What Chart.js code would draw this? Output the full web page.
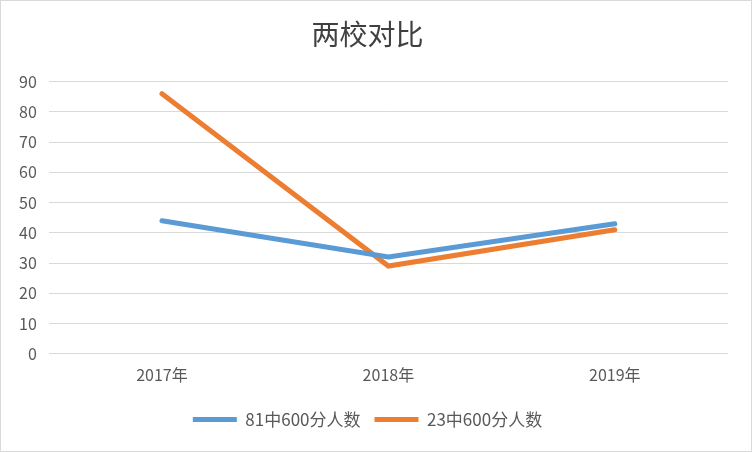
<!DOCTYPE html>
<html>
<head>
<meta charset="utf-8">
<script src="https://cdn.jsdelivr.net/npm/chart.js@4/dist/chart.umd.min.js"></script>
<style>
  body { margin: 0; background: #fff; }
  #wrap { width: 752px; height: 452px; box-sizing: border-box; border: 1px solid #d9d9d9; }
</style>
</head>
<body>
<div id="wrap"><canvas id="myChart"></canvas></div>
<script>
// dati
var years = ['2017年', '2018年', '2019年'];
var school81 = [44, 32, 43];
var school23 = [86, 29, 41];
var yTicks = [0, 10, 20, 30, 40, 50, 60, 70, 80, 90];

var grey = '#595959';
var font = "'Noto Sans CJK SC', 'Noto Sans', sans-serif";

var ctx = document.getElementById('myChart');
var chart = new Chart(ctx, {
  type: 'line',
  data: {
    labels: years,
    datasets: [{
      label: '81中600分人数',
      data: school81,
      borderColor: '#5b9bd5',
      backgroundColor: '#5b9bd5',
      borderWidth: 5,
      borderCapStyle: 'round',
      pointRadius: 0,
      tension: 0
    }, {
      label: '23中600分人数',
      data: school23,
      borderColor: '#ed7d31',
      backgroundColor: '#ed7d31',
      borderWidth: 5,
      borderCapStyle: 'round',
      pointRadius: 0,
      tension: 0
    }]
  },
  options: {
    responsive: true,
    maintainAspectRatio: false,
    animation: false,
    layout: { padding: { left: 6, right: 23, top: 0, bottom: 13 } },
    plugins: {
      title: {
        display: true,
        text: '两校对比',
        color: '#404040',
        font: { family: font, size: 28, weight: 'normal' },
        padding: { top: 17, bottom: 30 }
      },
      legend: {
        position: 'bottom',
        labels: {
          color: grey,
          font: { family: font, size: 17 },
          usePointStyle: true,
          pointStyle: 'line',
          pointStyleWidth: 44,
          boxHeight: 16,
          padding: 14
        }
      },
      tooltip: { enabled: false }
    },
    scales: {
      x: {
        offset: true,
        grid: { display: false, drawTicks: false },
        border: { display: false },
        ticks: { color: grey, font: { family: font, size: 16 }, padding: 12 }
      },
      y: {
        min: 0,
        max: 90,
        afterBuildTicks: function(axis) {
          axis.ticks = yTicks.map(function(v) { return { value: v }; });
        },
        grid: { color: '#d9d9d9', lineWidth: 1, drawTicks: false },
        border: { display: false },
        ticks: { color: grey, font: { family: font, size: 16 }, padding: 12 }
      }
    }
  }
});
</script>
</body>
</html>
